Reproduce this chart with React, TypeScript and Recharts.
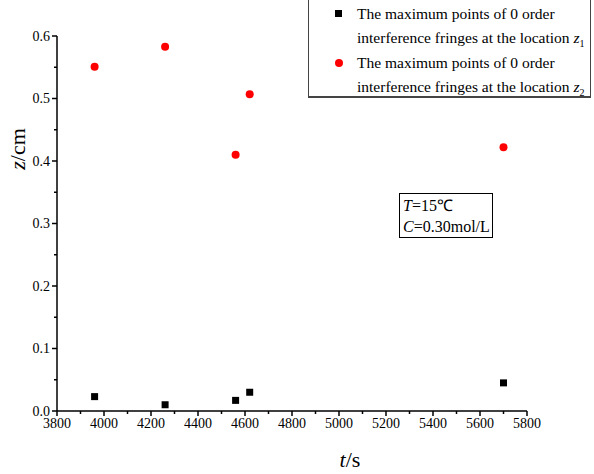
import { Legend, Scatter, ScatterChart, XAxis, YAxis } from "recharts";

const SERIF = "Liberation Serif, Times New Roman, serif";

const TIME_Z1 = [3960, 4260, 4560, 4620, 5700];
const Z1 = [0.023, 0.01, 0.017, 0.03, 0.045];
const TIME_Z2 = [3960, 4260, 4560, 4620, 5700];
const Z2 = [0.551, 0.583, 0.41, 0.507, 0.422];

const X_TICKS = [
  3800, 3900, 4000, 4100, 4200, 4300, 4400, 4500, 4600, 4700, 4800, 4900,
  5000, 5100, 5200, 5300, 5400, 5500, 5600, 5700, 5800,
];
const Y_TICKS = [
  0, 0.05, 0.1, 0.15, 0.2, 0.25, 0.3, 0.35, 0.4, 0.45, 0.5, 0.55, 0.6,
];

const LEGEND = [
  { sub: "1", color: "#000000", shape: "square" },
  { sub: "2", color: "#ff0000", shape: "circle" },
];

const seriesZ1 = TIME_Z1.map((t, i) => ({ t, z: Z1[i] }));
const seriesZ2 = TIME_Z2.map((t, i) => ({ t, z: Z2[i] }));

function XTick({ x, y, payload }: any) {
  const major = payload.value % 200 === 0;
  return (
    <g>
      <line x1={x} x2={x} y1={y} y2={y + (major ? 5 : 3)} stroke="#000" strokeWidth={1.5} />
      {major && (
        <text
          x={x}
          y={y + 12}
          textAnchor="middle"
          dominantBaseline="central"
          fill="#000"
          style={{ fontFamily: SERIF, fontSize: 14 }}
        >
          {payload.value}
        </text>
      )}
    </g>
  );
}

function YTick({ x, y, payload }: any) {
  const major = Math.round(payload.value * 100) % 10 === 0;
  return (
    <g>
      <line x1={x} x2={x - (major ? 5 : 3)} y1={y} y2={y} stroke="#000" strokeWidth={1.5} />
      {major && (
        <text
          x={x - 7}
          y={y}
          textAnchor="end"
          dominantBaseline="central"
          fill="#000"
          style={{ fontFamily: SERIF, fontSize: 14 }}
        >
          {payload.value.toFixed(1)}
        </text>
      )}
    </g>
  );
}

const Square = ({ cx, cy }: any) => (
  <rect x={cx - 3.5} y={cy - 3.5} width={7} height={7} fill="#000" />
);
const Dot = ({ cx, cy }: any) => <circle cx={cx} cy={cy} r={4} fill="#ff0000" />;

function LegendBox() {
  return (
    <div
      style={{
        width: 283,
        height: 101,
        boxSizing: "border-box",
        border: "1px solid #444",
        borderBottom: "2px solid #444",
        background: "#fff",
        fontFamily: SERIF,
        fontSize: 15.5,
        lineHeight: "24.3px",
        color: "#000",
        paddingTop: 4,
        whiteSpace: "nowrap",
        textAlign: "left",
      }}
    >
      {LEGEND.map((entry) => (
        <div key={entry.sub} style={{ position: "relative", paddingLeft: 48 }}>
          <span
            style={{
              position: "absolute",
              left: 26,
              top: 8,
              width: entry.shape === "square" ? 7 : 8,
              height: entry.shape === "square" ? 7 : 8,
              background: entry.color,
              borderRadius: entry.shape === "circle" ? "50%" : 0,
            }}
          />
          <div style={{ height: 24.3 }}>The maximum points of 0 order</div>
          <div style={{ height: 24.3 }}>
            interference fringes at the location <i>z</i>
            <span style={{ fontSize: 10, lineHeight: 1, position: "relative", top: 4 }}>
              {entry.sub}
            </span>
          </div>
        </div>
      ))}
    </div>
  );
}

export default function App() {
  return (
    <div
      style={{
        position: "absolute",
        left: 0,
        top: 0,
        width: 594,
        height: 474,
        background: "#fff",
        fontFamily: SERIF,
        overflow: "hidden",
      }}
    >
      <ScatterChart width={594} height={474} margin={{ top: 36, right: 67, bottom: 0, left: 0 }}>
        <XAxis
          type="number"
          dataKey="t"
          domain={[3800, 5800]}
          ticks={X_TICKS}
          interval={0}
          height={63}
          tickSize={0}
          tickMargin={0}
          tickLine={false}
          tick={<XTick />}
          axisLine={{ stroke: "#000", strokeWidth: 1.5 }}
          allowDataOverflow
          label={{
            content: () => (
              <text
                x={350}
                y={459}
                textAnchor="middle"
                dominantBaseline="central"
                fill="#000"
                style={{ fontFamily: SERIF, fontSize: 22 }}
              >
                <tspan fontStyle="italic">t</tspan>/s
              </text>
            ),
          }}
        />
        <YAxis
          type="number"
          dataKey="z"
          domain={[0, 0.6]}
          ticks={Y_TICKS}
          interval={0}
          width={57}
          tickSize={0}
          tickMargin={0}
          tickLine={false}
          tick={<YTick />}
          axisLine={{ stroke: "#000", strokeWidth: 1.5 }}
          allowDataOverflow
          label={{
            content: () => (
              <text
                transform="translate(17,149) rotate(-90)"
                textAnchor="middle"
                dominantBaseline="central"
                fill="#000"
                style={{ fontFamily: SERIF, fontSize: 22 }}
              >
                <tspan fontStyle="italic">z</tspan>/cm
              </text>
            ),
          }}
        />
        <Legend
          layout="horizontal"
          verticalAlign="middle"
          align="center"
          wrapperStyle={{ position: "absolute", left: 308, top: -3, width: 283, height: 101 }}
          content={() => <LegendBox />}
        />
        <Scatter name="z1" data={seriesZ1} fill="#000" shape={<Square />} isAnimationActive={false} />
        <Scatter name="z2" data={seriesZ2} fill="#ff0000" shape={<Dot />} isAnimationActive={false} />
      </ScatterChart>
      <div
        style={{
          position: "absolute",
          left: 399,
          top: 193,
          width: 94,
          height: 45,
          boxSizing: "border-box",
          border: "1px solid #000",
          fontFamily: SERIF,
          fontSize: 16,
          lineHeight: "21px",
          paddingLeft: 3,
          paddingTop: 1,
          color: "#000",
        }}
      >
        <div>
          <i>T</i>=15℃
        </div>
        <div>
          <i>C</i>=0.30mol/L
        </div>
      </div>
    </div>
  );
}
